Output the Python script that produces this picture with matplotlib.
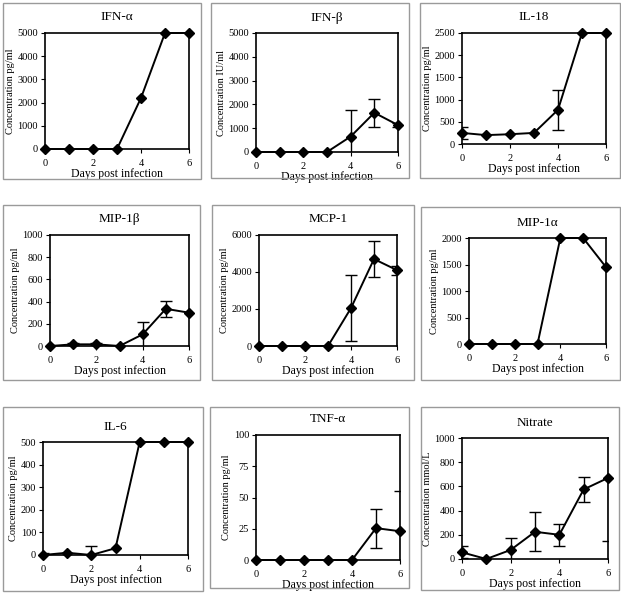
import matplotlib.pyplot as plt
from matplotlib.patches import Rectangle

plt.rcParams['font.family'] = ['Liberation Serif', 'DejaVu Serif']

days = [0, 1, 2, 3, 4, 5, 6]

ifn_a = [0, 0, 0, 0, 2200, 5000, 5000]
ifn_a_err = [0, 0, 0, 0, 0, 0, 0]
ifn_b = [0, 0, 0, 0, 650, 1650, 1130]
ifn_b_err = [0, 0, 0, 0, 1100, 590, 70]
il18 = [250, 200, 220, 250, 770, 2500, 2500]
il18_err = [135, 0, 0, 0, 450, 0, 0]
mip1b = [0, 15, 15, 0, 105, 335, 300]
mip1b_err = [0, 10, 10, 0, 110, 70, 0]
mcp1 = [0, 0, 0, 0, 2050, 4700, 4100]
mcp1_err = [0, 0, 0, 0, 1800, 950, 250]
mip1a = [0, 0, 0, 0, 2000, 2000, 1450]
mip1a_err = [0, 0, 0, 0, 0, 0, 0]
il6 = [0, 10, 0, 30, 500, 500, 500]
il6_err = [10, 0, 40, 0, 0, 0, 0]
tnfa = [0, 0, 0, 0, 0, 25.5, 23]
tnfa_err = [0, 0, 0, 0, 0, 15.5, 32.5]
nitrate = [55, 0, 75, 225, 200, 575, 670]
nitrate_err = [50, 0, 95, 160, 90, 105, 520]

titles = ['IFN-α', 'IFN-β', 'IL-18', 'MIP-1β', 'MCP-1', 'MIP-1α',
          'IL-6', 'TNF-α', 'Nitrate']
ylabels = ['Concentration pg/ml', 'Concentration IU/ml', 'Concentration pg/ml',
           'Concentration pg/ml', 'Concentration pg/ml', 'Concentration pg/ml',
           'Concentration pg/ml', 'Concentration pg/ml', 'Concentration mmol/L']
series = [ifn_a, ifn_b, il18, mip1b, mcp1, mip1a, il6, tnfa, nitrate]
errors = [ifn_a_err, ifn_b_err, il18_err, mip1b_err, mcp1_err, mip1a_err,
          il6_err, tnfa_err, nitrate_err]
yticks = [[0, 1000, 2000, 3000, 4000, 5000],
          [0, 1000, 2000, 3000, 4000, 5000],
          [0, 500, 1000, 1500, 2000, 2500],
          [0, 200, 400, 600, 800, 1000],
          [0, 2000, 4000, 6000],
          [0, 500, 1000, 1500, 2000],
          [0, 100, 200, 300, 400, 500],
          [0, 25, 50, 75, 100],
          [0, 200, 400, 600, 800, 1000]]

# pixel boxes: axes (left, top, right, bottom), frame (left, top, right, bottom)
axes_px = [(45, 33, 189, 149), (256, 33, 398, 152), (462, 33, 606, 144),
           (50, 235, 189, 346), (259, 235, 397, 346), (469, 238, 606, 344),
           (43, 442, 188, 555), (256, 435, 400, 560), (462, 438, 608, 559)]
frames_px = [(3, 3, 201, 179), (211, 3, 409, 178), (420, 3, 620, 178),
             (3, 205, 200, 380), (212, 205, 414, 380), (421, 207, 620, 380),
             (3, 407, 203, 591), (210, 407, 409, 588), (421, 407, 619, 590)]

W, H = 621, 593
fig = plt.figure(figsize=(W / 100, H / 100), dpi=100)

for (fl, ft, fr, fb) in frames_px:
    fig.add_artist(Rectangle((fl / W, 1 - fb / H), (fr - fl) / W, (fb - ft) / H,
                             transform=fig.transFigure, fill=False,
                             edgecolor='#9a9a9a', linewidth=1.0))

for i in range(9):
    l, t, r, b = axes_px[i]
    ax = fig.add_axes([l / W, 1 - b / H, (r - l) / W, (b - t) / H])
    ax.plot(days, series[i], color='black', linewidth=1.4, marker='D',
            markersize=5.5, clip_on=False, zorder=3)
    xs = [d for d, e in zip(days, errors[i]) if e > 0]
    ys = [v for v, e in zip(series[i], errors[i]) if e > 0]
    es = [e for e in errors[i] if e > 0]
    if es:
        ax.errorbar(xs, ys, yerr=es, fmt='none', ecolor='black',
                    elinewidth=1.0, capsize=4, capthick=1.0, zorder=2)
    ax.set_xlim(0, 6)
    ax.set_ylim(0, yticks[i][-1])
    ax.set_xticks([0, 2, 4, 6])
    ax.set_yticks(yticks[i])
    ax.tick_params(direction='out', length=3, width=0.8, labelsize=7.5)
    ax.tick_params(axis='x', pad=4)
    ax.tick_params(axis='y', pad=2)
    for s in ax.spines.values():
        s.set_linewidth(1.2)
    ax.set_title(titles[i], fontsize=9.5, pad=9)
    ax.set_ylabel(ylabels[i], fontsize=7.5, labelpad=2)
    ax.set_xlabel('Days post infection', fontsize=8.5, labelpad=0)

fig.savefig('out.png', dpi=100)
